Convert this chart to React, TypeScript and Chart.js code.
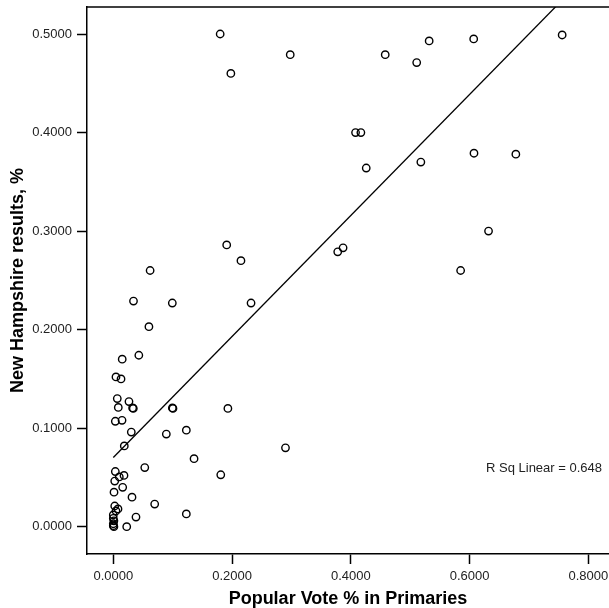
import React, { useEffect, useRef } from "react";
import { Chart, registerables } from "chart.js";

Chart.register(...registerables);

// Popular Vote % in Primaries (x) and New Hampshire results (y)
const popularVote = [
  0.180, 0.198, 0.298, 0.458, 0.532, 0.607, 0.756, 0.511, 0.518, 0.6075,
  0.678, 0.408, 0.417, 0.426, 0.632, 0.585, 0.191, 0.215, 0.0994, 0.232,
  0.378, 0.387, 0.062, 0.034, 0.060, 0.015, 0.043, 0.0045, 0.013, 0.0067,
  0.0264, 0.0084, 0.0337, 0.0325, 0.1005, 0.0995, 0.193, 0.0034, 0.0147, 0.0303,
  0.0893, 0.123, 0.0185, 0.136, 0.053, 0.0034, 0.018, 0.0101, 0.0024, 0.0158,
  0.0012, 0.0315, 0.0697, 0.0024, 0.0079, 0.0045, 0.0, 0.0, 0.001, 0.0,
  0.001, 0.0, 0.0226, 0.0382, 0.123, 0.181, 0.290,
];
const nhResults = [
  0.500, 0.460, 0.479, 0.479, 0.493, 0.495, 0.499, 0.471, 0.370, 0.379,
  0.378, 0.400, 0.400, 0.364, 0.300, 0.260, 0.286, 0.270, 0.227, 0.227,
  0.279, 0.283, 0.260, 0.229, 0.203, 0.170, 0.174, 0.152, 0.150, 0.130,
  0.127, 0.121, 0.120, 0.1205, 0.120, 0.1205, 0.120, 0.107, 0.108, 0.096,
  0.094, 0.098, 0.082, 0.069, 0.060, 0.056, 0.052, 0.0505, 0.0463, 0.040,
  0.035, 0.030, 0.023, 0.021, 0.018, 0.016, 0.012, 0.0085, 0.006, 0.003,
  0.0, 0.001, 0.0, 0.0098, 0.013, 0.0527, 0.080,
];

const xTickValues = [0, 0.2, 0.4, 0.6, 0.8];
const yTickValues = [0, 0.1, 0.2, 0.3, 0.4, 0.5];

const fitIntercept = 0.0702;
const fitSlope = 0.614;
const fitXStart = 0;
const fitXEnd = 0.756;
const rSqLabel = "R Sq Linear = 0.648";

const xTitle = "Popular Vote % in Primaries";
const yTitle = "New Hampshire results, %";

const FONT = "'Liberation Sans', Arial, Helvetica, sans-serif";

export default function App() {
  const ref = useRef<HTMLCanvasElement | null>(null);

  useEffect(() => {
    const canvas = ref.current;
    if (!canvas) return;

    const points = popularVote.map((x, i) => ({ x, y: nhResults[i] }));
    const fitLine = [
      { x: fitXStart, y: fitIntercept + fitSlope * fitXStart },
      { x: fitXEnd, y: fitIntercept + fitSlope * fitXEnd },
    ];

    const framePlugin = {
      id: "frameAndLabel",
      afterDraw(chart: any) {
        const { ctx, chartArea } = chart;
        ctx.save();
        ctx.strokeStyle = "#000";
        ctx.lineWidth = 1.3;
        ctx.beginPath();
        ctx.moveTo(chartArea.left, chartArea.top);
        ctx.lineTo(chart.width, chartArea.top);
        ctx.stroke();
        ctx.fillStyle = "#222";
        ctx.font = `13px ${FONT}`;
        ctx.textAlign = "left";
        ctx.textBaseline = "middle";
        ctx.fillText(rSqLabel, 486, 468);
        ctx.restore();
      },
    };

    const chart = new Chart(canvas, {
      type: "scatter",
      data: {
        datasets: [
          {
            type: "scatter",
            data: points,
            pointStyle: "circle",
            pointRadius: 3.7,
            pointHoverRadius: 3.7,
            pointBorderWidth: 1.4,
            pointBorderColor: "#000",
            pointBackgroundColor: "rgba(0,0,0,0)",
            borderColor: "#000",
            backgroundColor: "rgba(0,0,0,0)",
          } as any,
          {
            type: "line",
            data: fitLine,
            borderColor: "#000",
            borderWidth: 1.3,
            pointRadius: 0,
            fill: false,
            tension: 0,
          } as any,
        ],
      },
      plugins: [framePlugin],
      options: {
        responsive: false,
        animation: false,
        events: [],
        layout: { autoPadding: false, padding: { top: 7, right: 0, left: 0, bottom: 0 } },
        plugins: {
          legend: { display: false },
          tooltip: { enabled: false },
        },
        scales: {
          x: {
            type: "linear",
            position: "bottom",
            min: -0.0443,
            max: 0.8349,
            afterBuildTicks: (scale: any) => {
              scale.ticks = xTickValues.map((v) => ({ value: v }));
            },
            afterFit: (scale: any) => {
              scale.height = 54;
              scale.paddingLeft = 0;
              scale.paddingRight = 0;
            },
            ticks: {
              autoSkip: false,
              maxRotation: 0,
              minRotation: 0,
              padding: 5,
              color: "#222",
              font: { family: FONT, size: 13 },
              callback: (v: any) => Number(v).toFixed(4),
            },
            grid: {
              drawOnChartArea: false,
              drawTicks: true,
              tickLength: 10,
              tickWidth: 1.5,
              tickColor: "#000",
            },
            border: { display: true, color: "#000", width: 1.5 },
            title: {
              display: true,
              text: xTitle,
              color: "#000",
              font: { family: FONT, size: 18, weight: "bold", lineHeight: 1 },
              padding: { top: 0, bottom: 0 },
            },
          },
          y: {
            type: "linear",
            position: "left",
            min: -0.0277,
            max: 0.5274,
            afterBuildTicks: (scale: any) => {
              scale.ticks = yTickValues.map((v) => ({ value: v }));
            },
            afterFit: (scale: any) => {
              scale.width = 87;
              scale.paddingTop = 0;
              scale.paddingBottom = 0;
            },
            ticks: {
              autoSkip: false,
              padding: 5,
              color: "#222",
              font: { family: FONT, size: 13 },
              callback: (v: any) => Number(v).toFixed(4),
            },
            grid: {
              drawOnChartArea: false,
              drawTicks: true,
              tickLength: 10,
              tickWidth: 1.5,
              tickColor: "#000",
            },
            border: { display: true, color: "#000", width: 1.5 },
            title: {
              display: true,
              text: yTitle,
              color: "#000",
              font: { family: FONT, size: 18, weight: "bold", lineHeight: 1 },
              padding: { top: 9, bottom: 0 },
            },
          },
        },
      },
    } as any);

    return () => chart.destroy();
  }, []);

  return (
    <div style={{ position: "fixed", left: 0, top: 0, width: 609, height: 608, background: "#fff" }}>
      <canvas ref={ref} width={609} height={608} style={{ display: "block", width: 609, height: 608 }} />
    </div>
  );
}
